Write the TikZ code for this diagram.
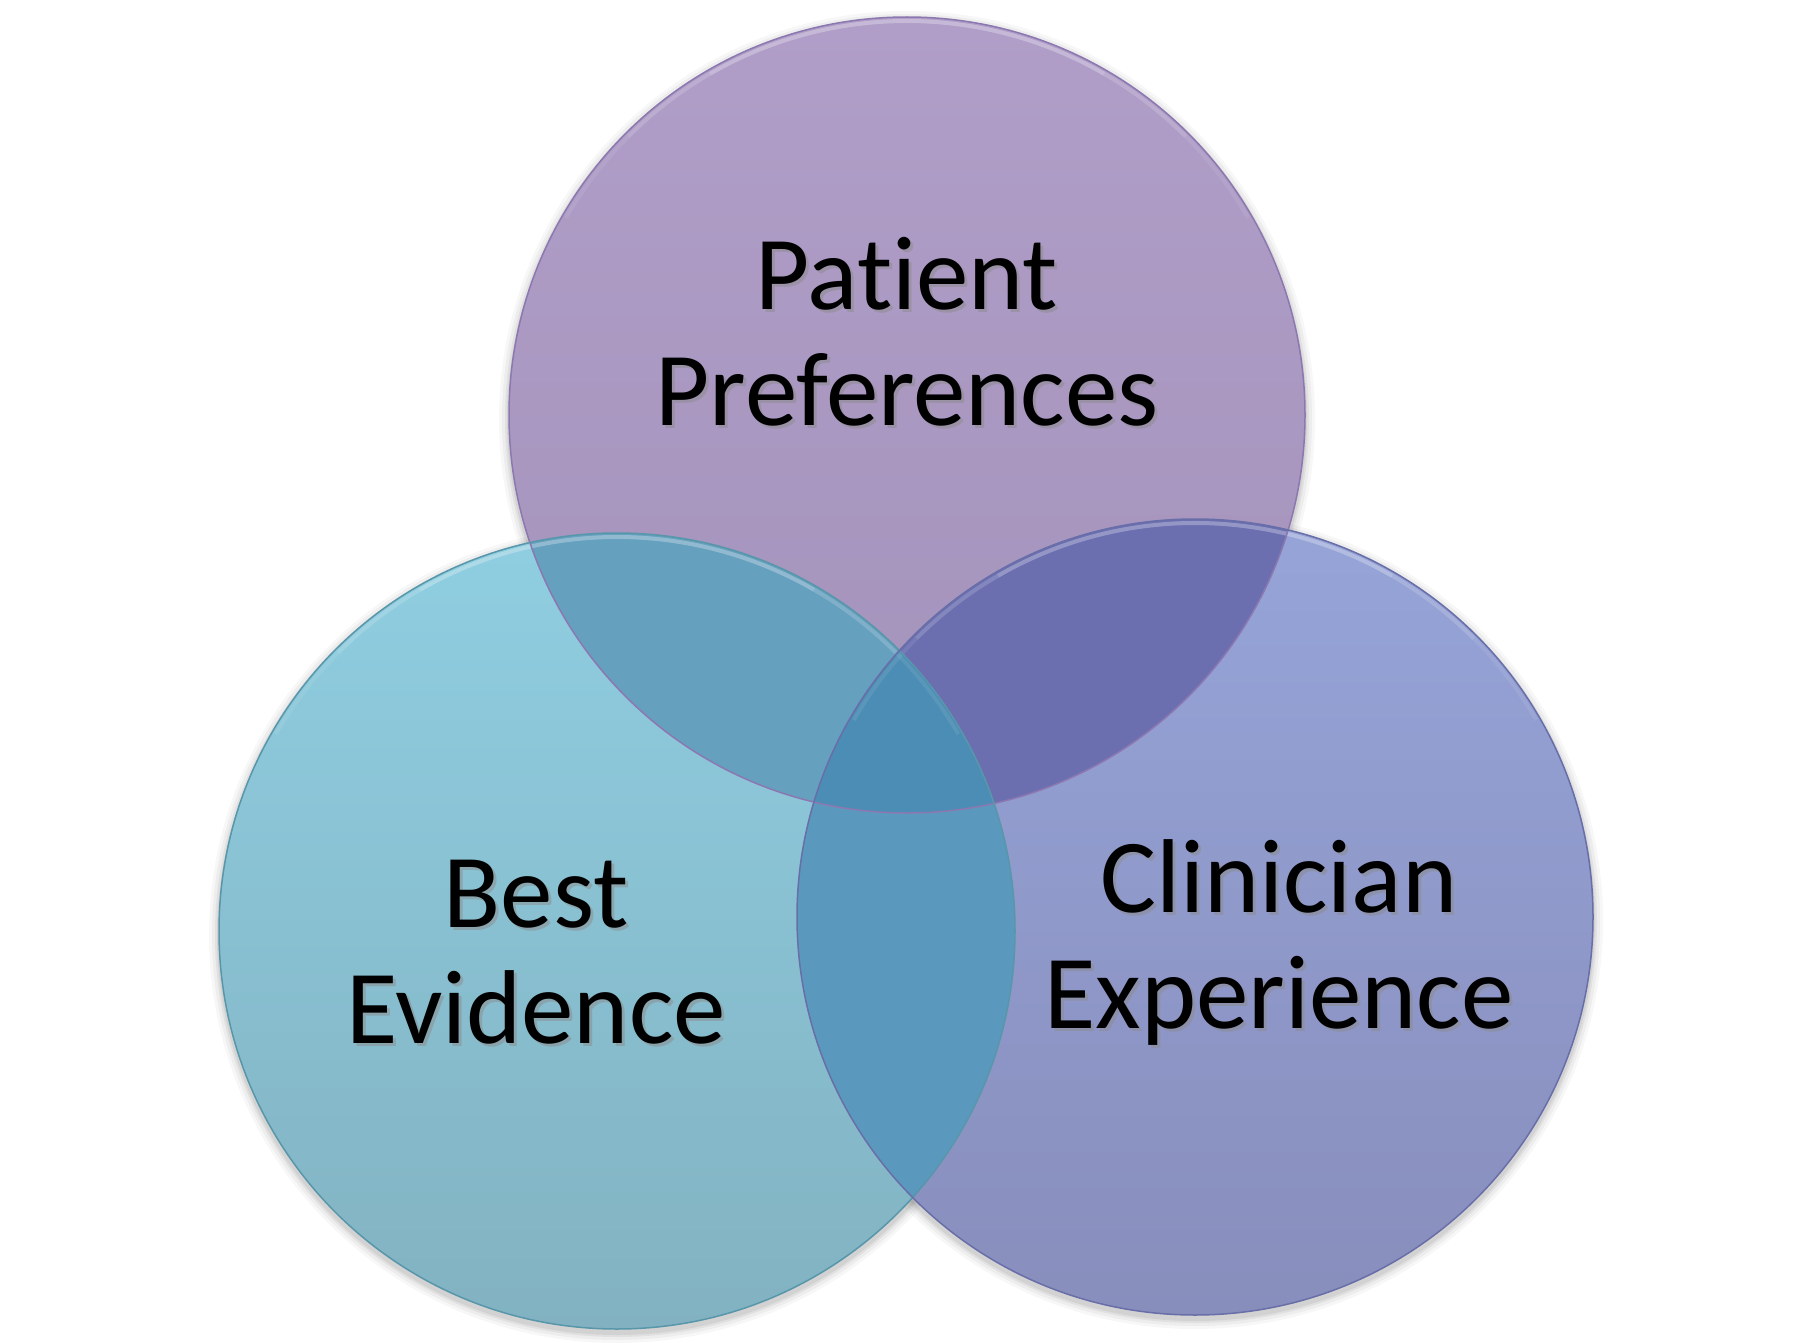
\documentclass[tikz,border=0pt]{standalone}
\usepackage{fontspec}
\setmainfont[Ligatures=NoCommon]{Carlito}
\definecolor{ttop}{RGB}{176,158,200}
\definecolor{tbot}{RGB}{163,146,186}
\definecolor{ltop}{RGB}{143,206,225}
\definecolor{lbot}{RGB}{130,178,193}
\definecolor{rtop}{RGB}{150,164,216}
\definecolor{rbot}{RGB}{136,142,188}
\definecolor{otl}{RGB}{102,160,191}
\definecolor{otr}{RGB}{107,111,176}
\definecolor{olr}{RGB}{90,153,189}
\definecolor{oall}{RGB}{76,141,181}
\definecolor{edget}{RGB}{140,120,176}
\definecolor{edgel}{RGB}{88,150,170}
\definecolor{edger}{RGB}{104,110,168}
\begin{document}
\begin{tikzpicture}[x=1pt,y=-1pt,
  lbl/.style={align=center,anchor=base,inner sep=0pt,font=\fontsize{105}{116}\selectfont},
  lblshadow/.style={lbl,text=black!45,opacity=0.5}]
\useasboundingbox (0,0) rectangle (1810,1343);
\fill[white] (0,0) rectangle (1810,1343);
\coordinate (ct) at (907,415);
\coordinate (cl) at (617,931);
\coordinate (cr) at (1195,917);
\def\R{398pt}
% soft shadows
\foreach \c in {ct,cl,cr}{
  \foreach \k/\o in {10/0.03,7/0.04,4/0.05,2/0.06}{
    \fill[black,opacity=\o] ([yshift=-4pt]\c) circle[radius=398pt+\k pt];
  }
}
% circles
\shade[top color=ttop,bottom color=tbot] (ct) circle[radius=\R];
\shade[top color=ltop,bottom color=lbot] (cl) circle[radius=\R];
\shade[top color=rtop,bottom color=rbot] (cr) circle[radius=\R];
% overlaps
\begin{scope}
  \clip (ct) circle[radius=\R];
  \fill[otl] (cl) circle[radius=\R];
  \fill[otr] (cr) circle[radius=\R];
\end{scope}
\begin{scope}
  \clip (cl) circle[radius=\R];
  \fill[olr] (cr) circle[radius=\R];
  \clip (cr) circle[radius=\R];
  \fill[oall] (ct) circle[radius=\R];
\end{scope}
% highlights
\foreach \c in {ct,cl,cr}{
  \foreach \a/\o in {30/0.08,45/0.10,60/0.14}{
    \draw[white,opacity=\o,line width=4pt] (\c) ++(\a:394pt) arc[start angle=\a,end angle=180-\a,radius=394pt];
  }
}
% outlines
\draw[edget,line width=1.5pt] (ct) circle[radius=\R];
\draw[edgel,line width=1.5pt] (cl) circle[radius=\R];
\draw[edger,line width=1.5pt] (cr) circle[radius=\R];
% labels
\node[lblshadow] at (910,428) {Patient\\Preferences};
\node[lbl] (pp) at (907,425) {Patient\\Preferences};
\node[lblshadow] at (539,1046) {Best\\Evidence};
\node[lbl] (be) at (536,1043) {Best\\Evidence};
\node[lblshadow] at (1282,1031) {Clinician\\Experience};
\node[lbl] (ce) at (1279,1028) {Clinician\\Experience};
\end{tikzpicture}
\end{document}
